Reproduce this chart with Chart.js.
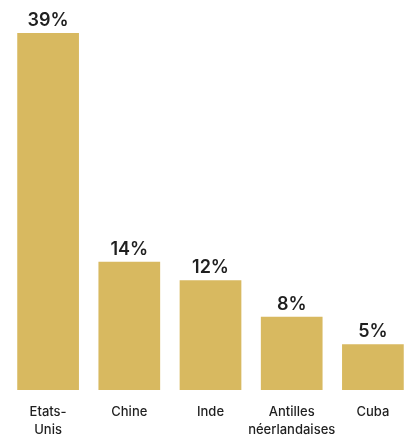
<!DOCTYPE html>
<html>
<head>
<meta charset="utf-8">
<script src="https://cdn.jsdelivr.net/npm/chart.js@4"></script>
<style>
  html, body { margin: 0; padding: 0; background: #fff; overflow: hidden; }
  #wrap { width: 414px; height: 437px; }
</style>
</head>
<body>
<div id="wrap"><canvas id="chart"></canvas></div>
<script>
'use strict';

const categories = [['Etats-', 'Unis'], ['Chine'], ['Inde'], ['Antilles', 'néerlandaises'], ['Cuba']];
const shares = [39, 14, 12, 8, 5]; // percent

const barColor = '#d8b960';
const textColor = '#1f1f1f';
const fontFamily = 'Inter, "Noto Sans", sans-serif';

// draws the "39%" labels above each bar
const valueLabels = {
    id: 'valueLabels',
    afterDatasetsDraw(chart) {
        const ctx = chart.ctx;
        const meta = chart.getDatasetMeta(0);
        ctx.save();
        ctx.fillStyle = textColor;
        ctx.font = '600 18px ' + fontFamily;
        ctx.textAlign = 'center';
        ctx.textBaseline = 'alphabetic';
        meta.data.forEach((bar, i) => {
            ctx.fillText(shares[i] + '%', bar.x, bar.y - 7);
        });
        ctx.restore();
    }
};

new Chart(document.getElementById('chart'), {
    type: 'bar',
    data: {
        labels: categories,
        datasets: [{
            data: shares,
            backgroundColor: barColor,
            borderWidth: 0,
            barPercentage: 0.76,
            categoryPercentage: 1
        }]
    },
    options: {
        responsive: true,
        maintainAspectRatio: false,
        animation: false,
        layout: {
            padding: { top: 33, left: 7.5, right: 0.5, bottom: -15 }
        },
        scales: {
            x: {
                grid: { display: false, drawTicks: false },
                border: { display: false },
                ticks: {
                    color: textColor,
                    padding: 13,
                    autoSkip: false,
                    maxRotation: 0,
                    font: { family: fontFamily, size: 13, weight: '500', lineHeight: '18px' }
                }
            },
            y: {
                display: false,
                min: 0,
                max: 39
            }
        },
        plugins: {
            legend: { display: false },
            tooltip: { enabled: false }
        }
    },
    plugins: [valueLabels]
});
</script>
</body>
</html>
